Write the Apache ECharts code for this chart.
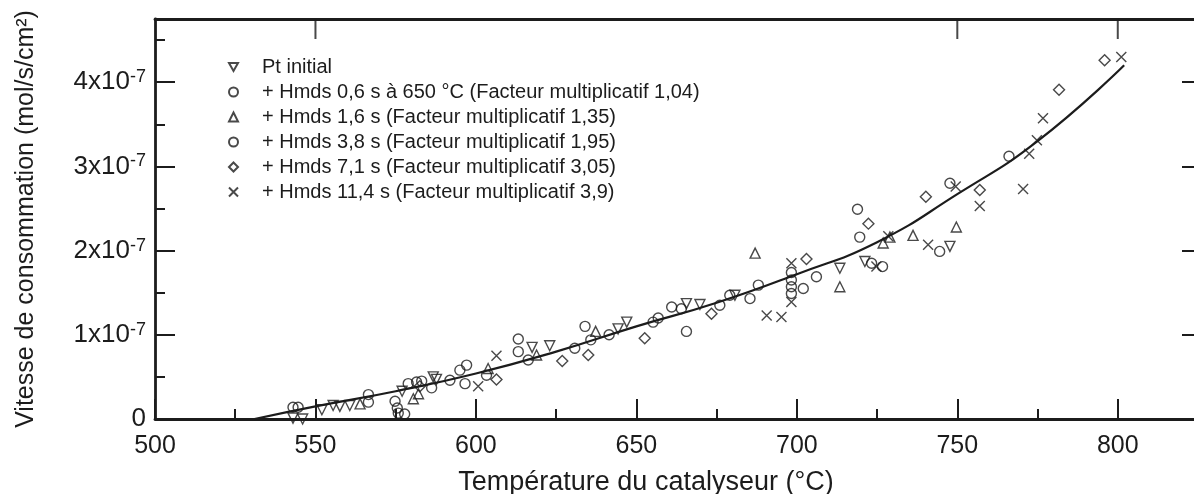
<!DOCTYPE html>
<html><head><meta charset="utf-8">
<script src="https://cdn.jsdelivr.net/npm/echarts@6/dist/echarts.min.js"></script>
<style>html,body{margin:0;padding:0;background:#fff}#c{width:1194px;height:494px}</style>
</head><body><div id="c"></div>
<script>
// Values: [température (°C), vitesse de consommation in units of 1e-7 mol/s/cm²]
const seriesNames = [
  'Pt initial',
  '+ Hmds 0,6 s à 650 °C (Facteur multiplicatif 1,04)',
  '+ Hmds 1,6 s (Facteur multiplicatif 1,35)',
  '+ Hmds 3,8 s (Facteur multiplicatif 1,95)',
  '+ Hmds 7,1 s (Facteur multiplicatif 3,05)',
  '+ Hmds 11,4 s (Facteur multiplicatif 3,9)'
];
const ptInitial = [[543,0.01],[546,0.0],[552,0.11],[555.5,0.16],[557.6,0.15],[560.7,0.16],[577,0.33],[586.7,0.5],[587.7,0.47],[617.5,0.85],[623,0.87],[644.3,1.07],[647,1.15],[665.6,1.37],[669.8,1.36],[680.7,1.47],[713.4,1.79],[721.2,1.87],[747.7,2.05]];
const hmds06 = [[543,0.14],[566.5,0.29],[574.8,0.21],[575.8,0.07],[578.9,0.42],[583.1,0.45],[591.9,0.46],[597.1,0.64],[603.3,0.52],[613.2,0.8],[630.8,0.84],[635.8,0.94],[655.2,1.15],[661,1.33],[665.6,1.04],[679.1,1.47],[688,1.59],[698.3,1.65],[698.3,1.49],[706.1,1.69],[719.6,2.16],[726.7,1.81],[747.7,2.8]];
const hmds16 = [[563.9,0.18],[580.5,0.24],[582.1,0.3],[603.8,0.6],[618.9,0.76],[637.3,1.04],[687,1.97],[713.4,1.57],[726.9,2.09],[729,2.16],[736.2,2.18],[749.7,2.28]];
const hmds38 = [[544.6,0.14],[566.5,0.2],[575.5,0.13],[577.8,0.06],[581.5,0.44],[586.2,0.37],[595,0.58],[596.6,0.42],[613.2,0.95],[616.3,0.7],[634,1.1],[641.5,1.0],[656.8,1.2],[664,1.31],[676,1.35],[685.4,1.43],[698.3,1.74],[698.3,1.57],[702,1.55],[718.9,2.49],[723.3,1.85],[744.5,1.99],[766.1,3.12]];
const hmds71 = [[582.5,0.39],[606.4,0.47],[626.9,0.69],[635,0.76],[652.6,0.96],[673.4,1.25],[703,1.9],[722.3,2.32],[740.2,2.64],[757,2.72],[781.7,3.91],[795.9,4.26]];
const hmds114 = [[600.7,0.39],[606.4,0.75],[690.6,1.23],[695.2,1.21],[698.3,1.85],[698.3,1.39],[724.8,1.81],[728.5,2.17],[740.9,2.07],[749.5,2.76],[757,2.53],[770.5,2.73],[772.4,3.15],[774.8,3.31],[776.7,3.57],[801.1,4.3]];
const fitCurve = [[531,0],[550,0.15],[575,0.33],[600,0.54],[625,0.8],[650,1.1],[675,1.38],[700,1.72],[725,2.1],[750,2.67],[775,3.3],[802,4.2]];
const xTicks = [500,550,600,650,700,750,800];
const topTicks = [550,750,800];
const yTickExp = '-7';

const INK = '#1c1c1c';
const FONT = "'Liberation Sans', Arial, Helvetica, sans-serif";
const X_MIN = 500, X_MAX = 825, Y_MIN = 0, Y_MAX = 4.75;
const chart = echarts.init(document.getElementById('c'), null, {renderer:'canvas'});
const hollow = {color:'rgba(0,0,0,0)', borderColor:INK, borderWidth:1.4};
const crossPath = 'path://M0,0L10,10M0,10L10,0';
const downTriPath = 'path://M0,0L10,0L5,9Z';
function sc(name, data, symbol, size, rot) {
  return {type:'scatter', name, data, symbol, symbolSize:size, symbolRotate:rot||0,
    symbolKeepAspect:true,
    itemStyle: hollow, xAxisIndex:0, yAxisIndex:0, z:3};
}
const axLine = {show:true, onZero:false, lineStyle:{color:INK, width:2.8}};
const noLine = {show:false, onZero:false};
const tick = (len) => ({show:true, inside:true, length:len, lineStyle:{color:INK, width:2}});
const option = {
  animation:false,
  backgroundColor:'#fff',
  textStyle:{fontFamily:FONT, color:INK},
  grid:{left:155, top:19, right:-4, bottom:75, containLabel:false, outerBoundsMode:'none'},
  legend:{
    orient:'vertical', left:228, top:57, padding:0, itemGap:5,
    itemWidth:9, itemHeight:9, symbolKeepAspect:true,
    textStyle:{fontSize:20, fontFamily:FONT, color:INK, lineHeight:20, padding:[0,0,0,19]},
    data: seriesNames.map((n, i) => i === 0 ? {name:n, icon:downTriPath} : n)
  },
  xAxis:[
    {type:'value', position:'bottom', offset:0, min:X_MIN, max:X_MAX, interval:50,
     axisLine:axLine, splitLine:{show:false}, axisTick:tick(20),
     axisLabel:{margin:15, fontSize:25, fontFamily:FONT, color:INK,
       formatter:v => xTicks.includes(v) ? String(v) : ''},
     name:'Température du catalyseur (°C)', nameLocation:'middle', nameGap:50,
     nameTextStyle:{fontSize:27, fontFamily:FONT, color:INK, padding:[0,61,0,0]}},
    {type:'value', position:'bottom', offset:0, min:X_MIN, max:X_MAX, interval:25,
     axisLine:noLine, splitLine:{show:false}, axisLabel:{show:false}, axisTick:tick(10)},
    {type:'value', position:'top', offset:0, min:X_MIN, max:X_MAX, interval:50,
     axisLine:axLine, splitLine:{show:false}, axisLabel:{show:false}, axisTick:{show:false}}
  ],
  yAxis:[
    {type:'value', position:'left', min:Y_MIN, max:Y_MAX, interval:1,
     axisLine:axLine, splitLine:{show:false}, axisTick:tick(20),
     axisLabel:{margin:9, color:INK,
       formatter:v => (v % 1 !== 0) ? '' : (v === 0 ? '{n|0}' : '{n|' + v + 'x10}{s|' + yTickExp + '}'),
       rich:{n:{fontSize:26, fontFamily:FONT, color:INK, lineHeight:28},
             s:{fontSize:18, fontFamily:FONT, color:INK, verticalAlign:'top', lineHeight:17}}},
     name:'Vitesse de consommation (mol/s/cm²)', nameLocation:'middle', nameGap:116,
     nameTextStyle:{fontSize:25, fontFamily:FONT, color:INK}},
    {type:'value', position:'left', offset:0, min:Y_MIN, max:Y_MAX, interval:0.5,
     axisLine:noLine, splitLine:{show:false}, axisLabel:{show:false}, axisTick:tick(10)},
    {type:'value', position:'right', offset:0, min:Y_MIN, max:Y_MAX, interval:1,
     axisLine:axLine, splitLine:{show:false}, axisLabel:{show:false}, axisTick:tick(16)}
  ],
  series:[
    sc(seriesNames[0], ptInitial, 'triangle', 10, 180),
    sc(seriesNames[1], hmds06, 'circle', 10),
    sc(seriesNames[2], hmds16, 'triangle', 10),
    sc(seriesNames[3], hmds38, 'circle', 10),
    sc(seriesNames[4], hmds71, 'diamond', 11),
    sc(seriesNames[5], hmds114, crossPath, 10),
    {type:'line', name:'fit', data:fitCurve, smooth:true, showSymbol:false, symbol:'none',
     lineStyle:{color:INK, width:2.2}, xAxisIndex:0, yAxisIndex:0, z:2, silent:true},
    // inward tick marks on the top frame, hanging from the top edge (Y_MAX)
    {type:'scatter', name:'topTicks', data:topTicks.map(v => [v, Y_MAX]),
     symbol:'rect', symbolSize:[2, 20], symbolOffset:[0, 10], clip:false, silent:true,
     itemStyle:{color:INK, borderWidth:0}, xAxisIndex:0, yAxisIndex:0, z:4}
  ]
};
chart.setOption(option);
</script>
</body></html>
